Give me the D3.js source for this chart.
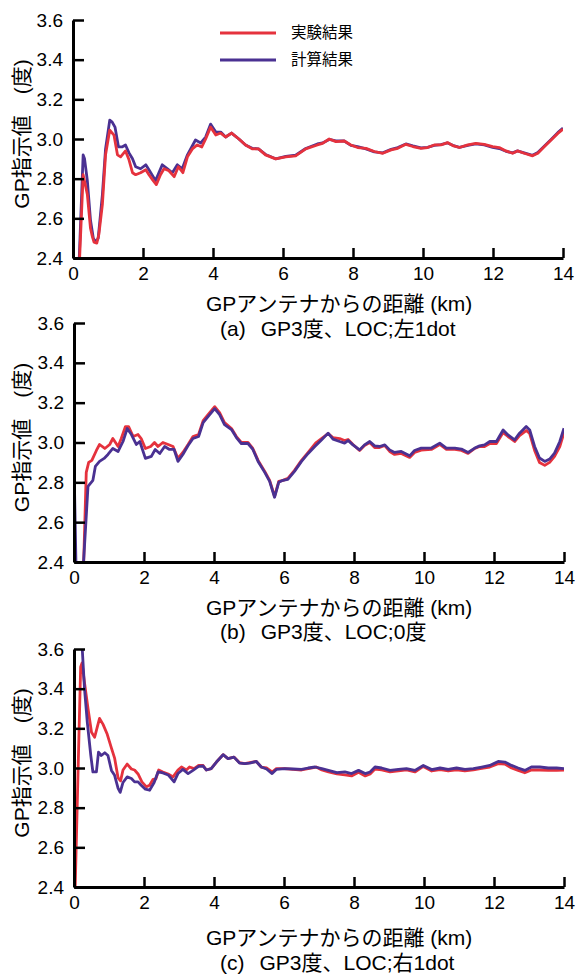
<!DOCTYPE html>
<html>
<head>
<meta charset="utf-8">
<script src="https://cdn.jsdelivr.net/npm/d3@7"></script>
<style>
body { margin: 0; background: #fff; }
text { font-family: "Liberation Sans", "Noto Sans CJK JP", sans-serif; fill: #000; }
</style>
</head>
<body>
<div id="graph"></div>
<script>
const xTicks = [0, 2, 4, 6, 8, 10, 12, 14];
const yTicks = [2.4, 2.6, 2.8, 3.0, 3.2, 3.4, 3.6];
const seriesNames = ['実験結果', '計算結果'];
const xTitle = 'GPアンテナからの距離 (km)';
const yTitle = 'GP指示値　(度)';
const capTags = ['(a)', '(b)', '(c)'];
const captions = ['GP3度、LOC;左1dot', 'GP3度、LOC;0度', 'GP3度、LOC;右1dot'];

// [km, deg]
const aExp = [[0.18,2.36],[0.29,2.82],[0.41,2.72],[0.5,2.55],[0.55,2.51],[0.6,2.48],[0.68,2.475],[0.74,2.52],[0.84,2.67],[0.93,2.92],[1.05,3.045],[1.17,3.02],[1.27,2.92],[1.36,2.91],[1.5,2.94],[1.6,2.895],[1.7,2.83],[1.79,2.82],[1.93,2.83],[2.08,2.845],[2.17,2.82],[2.27,2.795],[2.38,2.77],[2.5,2.82],[2.6,2.85],[2.74,2.84],[2.89,2.81],[3.01,2.86],[3.14,2.83],[3.27,2.91],[3.41,2.95],[3.55,2.97],[3.68,2.96],[3.79,3.0],[3.93,3.06],[4.08,3.02],[4.22,3.03],[4.36,3.01],[4.53,3.03],[4.74,3.0],[4.93,2.97],[5.12,2.95],[5.3,2.95],[5.5,2.92],[5.79,2.9],[6.08,2.91],[6.36,2.915],[6.65,2.95],[6.98,2.97],[7.13,2.978],[7.32,3.0],[7.51,2.987],[7.75,2.99],[7.94,2.97],[8.13,2.957],[8.37,2.953],[8.61,2.937],[8.85,2.928],[9.09,2.945],[9.28,2.953],[9.51,2.973],[9.71,2.962],[9.94,2.953],[10.13,2.957],[10.32,2.97],[10.51,2.97],[10.7,2.982],[10.85,2.967],[11.04,2.957],[11.28,2.97],[11.51,2.978],[11.75,2.973],[11.99,2.962],[12.18,2.957],[12.37,2.94],[12.56,2.928],[12.7,2.94],[12.89,2.928],[13.13,2.915],[13.28,2.928],[13.47,2.962],[13.66,2.995],[13.85,3.028],[14.0,3.05]];
const aCalc = [[0.17,2.36],[0.29,2.92],[0.33,2.9],[0.41,2.79],[0.5,2.59],[0.58,2.5],[0.65,2.48],[0.72,2.5],[0.84,2.72],[0.93,2.95],[1.05,3.095],[1.12,3.085],[1.2,3.06],[1.3,2.96],[1.4,2.96],[1.5,2.97],[1.6,2.93],[1.7,2.9],[1.79,2.86],[1.93,2.85],[2.08,2.87],[2.17,2.845],[2.36,2.79],[2.55,2.87],[2.7,2.85],[2.84,2.83],[2.98,2.87],[3.12,2.85],[3.27,2.92],[3.5,2.995],[3.65,2.98],[3.79,3.01],[3.93,3.075],[4.08,3.035],[4.22,3.035],[4.36,3.01],[4.53,3.03],[4.74,3.0],[4.93,2.97],[5.12,2.953],[5.3,2.95],[5.5,2.922],[5.79,2.9],[6.08,2.912],[6.36,2.918],[6.65,2.952],[6.98,2.975],[7.13,2.98],[7.32,2.998],[7.51,2.99],[7.75,2.99],[7.94,2.968],[8.13,2.962],[8.37,2.95],[8.61,2.935],[8.85,2.93],[9.09,2.948],[9.28,2.957],[9.51,2.975],[9.71,2.965],[9.94,2.955],[10.13,2.958],[10.32,2.968],[10.51,2.972],[10.7,2.98],[10.85,2.968],[11.04,2.958],[11.28,2.968],[11.51,2.975],[11.75,2.97],[11.99,2.958],[12.18,2.952],[12.37,2.938],[12.56,2.93],[12.7,2.94],[12.89,2.93],[13.13,2.918],[13.28,2.932],[13.47,2.965],[13.66,2.998],[13.85,3.032],[14.0,3.055]];

const bExp = [[0.27,2.36],[0.35,2.85],[0.42,2.9],[0.51,2.91],[0.64,2.96],[0.73,2.99],[0.88,2.97],[1.02,2.99],[1.11,3.02],[1.26,2.98],[1.35,3.02],[1.47,3.08],[1.56,3.08],[1.69,3.03],[1.83,3.04],[1.92,3.02],[2.04,2.97],[2.19,2.98],[2.3,3.0],[2.4,2.98],[2.54,3.0],[2.69,2.99],[2.83,2.98],[2.97,2.92],[3.11,2.95],[3.26,2.99],[3.4,3.03],[3.56,3.04],[3.69,3.11],[3.83,3.14],[4.02,3.18],[4.16,3.15],[4.3,3.1],[4.5,3.07],[4.64,3.03],[4.78,3.0],[4.97,3.0],[5.11,2.97],[5.26,2.91],[5.45,2.855],[5.59,2.81],[5.73,2.73],[5.85,2.805],[5.97,2.81],[6.11,2.82],[6.3,2.86],[6.5,2.91],[6.69,2.95],[6.92,3.0],[7.07,3.02],[7.26,3.045],[7.4,3.025],[7.59,3.02],[7.73,3.01],[7.83,3.015],[7.97,2.99],[8.16,2.96],[8.3,2.985],[8.45,3.0],[8.59,2.975],[8.73,2.975],[8.88,2.985],[9.02,2.955],[9.16,2.94],[9.35,2.945],[9.59,2.925],[9.73,2.95],[9.92,2.962],[10.21,2.965],[10.45,2.99],[10.64,2.965],[10.88,2.965],[11.07,2.96],[11.26,2.945],[11.45,2.97],[11.59,2.98],[11.73,2.98],[11.88,2.995],[12.07,2.995],[12.26,3.05],[12.4,3.03],[12.59,3.005],[12.73,3.035],[12.92,3.06],[13.02,3.045],[13.16,2.96],[13.3,2.9],[13.45,2.885],[13.59,2.9],[13.73,2.93],[13.88,2.98],[14.0,3.05]];
const bCalc = [[0.0,2.9],[0.06,2.36],[0.26,2.36],[0.4,2.78],[0.54,2.81],[0.61,2.88],[0.73,2.905],[0.86,2.92],[0.97,2.94],[1.11,2.97],[1.26,2.955],[1.4,3.005],[1.52,3.07],[1.64,3.04],[1.78,2.99],[1.88,3.005],[2.04,2.92],[2.21,2.93],[2.32,2.965],[2.45,2.945],[2.59,2.98],[2.73,2.965],[2.86,2.965],[2.97,2.905],[3.11,2.94],[3.26,2.985],[3.4,3.02],[3.56,3.03],[3.69,3.1],[3.83,3.13],[4.02,3.17],[4.16,3.14],[4.3,3.09],[4.5,3.065],[4.64,3.025],[4.78,2.995],[4.97,2.995],[5.11,2.965],[5.26,2.905],[5.45,2.85],[5.59,2.805],[5.73,2.725],[5.85,2.8],[5.97,2.81],[6.11,2.815],[6.3,2.855],[6.5,2.905],[6.69,2.945],[6.88,2.98],[7.07,3.013],[7.26,3.047],[7.4,3.017],[7.59,3.005],[7.73,2.997],[7.83,3.01],[7.97,2.988],[8.16,2.963],[8.3,2.988],[8.45,3.005],[8.59,2.983],[8.73,2.98],[8.88,2.988],[9.02,2.963],[9.16,2.95],[9.35,2.955],[9.59,2.933],[9.73,2.96],[9.92,2.972],[10.21,2.972],[10.45,2.997],[10.64,2.972],[10.88,2.972],[11.07,2.967],[11.26,2.95],[11.45,2.972],[11.59,2.983],[11.73,2.988],[11.88,3.005],[12.07,3.005],[12.26,3.063],[12.4,3.038],[12.59,3.013],[12.73,3.047],[12.92,3.08],[13.02,3.063],[13.16,2.98],[13.3,2.922],[13.45,2.905],[13.59,2.917],[13.73,2.947],[13.88,3.005],[14.0,3.072]];

const cExp = [[0.0,2.6],[0.03,2.37],[0.19,3.51],[0.23,3.53],[0.3,3.43],[0.4,3.3],[0.5,3.18],[0.59,3.155],[0.67,3.21],[0.73,3.25],[0.83,3.22],[0.95,3.17],[1.07,3.1],[1.16,3.05],[1.26,2.95],[1.33,2.935],[1.4,2.99],[1.52,3.02],[1.64,2.995],[1.73,2.99],[1.83,2.97],[1.94,2.93],[2.07,2.905],[2.16,2.913],[2.26,2.943],[2.34,2.945],[2.42,2.99],[2.54,2.98],[2.69,2.97],[2.83,2.955],[2.97,2.99],[3.07,3.005],[3.21,2.99],[3.3,3.005],[3.43,2.997],[3.56,3.013],[3.69,3.013],[3.78,2.99],[3.92,2.997],[4.07,3.03],[4.26,3.067],[4.4,3.047],[4.57,3.055],[4.73,3.027],[4.88,3.022],[5.02,3.027],[5.21,3.033],[5.35,3.005],[5.5,3.0],[5.66,2.98],[5.78,2.997],[6.02,2.997],[6.26,2.993],[6.5,2.99],[6.69,2.997],[6.92,3.005],[7.08,2.99],[7.27,2.98],[7.51,2.97],[7.74,2.965],[7.93,2.96],[8.13,2.978],[8.32,2.96],[8.46,2.97],[8.6,2.995],[8.79,2.99],[9.03,2.98],[9.27,2.985],[9.5,2.99],[9.74,2.98],[9.98,3.008],[10.22,2.985],[10.46,2.992],[10.69,2.985],[10.93,2.99],[11.17,2.985],[11.41,2.99],[11.65,2.998],[11.88,3.005],[12.12,3.022],[12.31,3.02],[12.5,3.0],[12.69,2.988],[12.88,2.976],[13.07,2.99],[13.31,2.99],[13.55,2.988],[13.79,2.988],[14.0,2.99]];
const cCalc = [[0.22,3.65],[0.3,3.4],[0.38,3.23],[0.48,3.063],[0.54,2.98],[0.64,2.98],[0.7,3.08],[0.78,3.063],[0.88,3.077],[0.97,3.063],[1.07,2.988],[1.16,2.963],[1.26,2.897],[1.32,2.877],[1.4,2.927],[1.52,2.955],[1.64,2.947],[1.73,2.93],[1.83,2.93],[1.92,2.913],[2.04,2.893],[2.16,2.888],[2.29,2.927],[2.4,2.98],[2.54,2.975],[2.69,2.965],[2.86,2.93],[2.97,2.972],[3.11,2.993],[3.26,2.972],[3.4,2.988],[3.56,3.008],[3.69,3.01],[3.78,2.99],[3.92,2.997],[4.07,3.03],[4.26,3.067],[4.4,3.047],[4.57,3.055],[4.73,3.025],[4.88,3.022],[5.02,3.025],[5.21,3.033],[5.35,3.005],[5.5,2.995],[5.66,2.972],[5.78,2.993],[6.02,2.997],[6.26,2.995],[6.5,2.993],[6.69,3.0],[6.89,3.005],[7.08,2.997],[7.27,2.988],[7.51,2.977],[7.74,2.98],[7.93,2.972],[8.13,2.988],[8.32,2.972],[8.46,2.98],[8.6,3.005],[8.79,3.0],[9.03,2.988],[9.27,2.993],[9.5,2.997],[9.74,2.988],[9.98,3.013],[10.22,2.992],[10.46,3.0],[10.69,2.993],[10.93,3.0],[11.17,2.993],[11.41,2.997],[11.65,3.005],[11.88,3.013],[12.12,3.033],[12.31,3.03],[12.5,3.013],[12.69,3.0],[12.88,2.988],[13.07,3.005],[13.31,3.005],[13.55,3.0],[13.79,3.0],[14.0,2.997]];

const w = 578, h = 976;
const red = '#e5323d', blue = '#4a3192';

// panel placement (px)
const panels = [
  {exp: aExp, calc: aCalc, left: 73, top: 20, bottom: 258, titleDy: 53, capDy: 78, redTop: true, legend: true},
  {exp: bExp, calc: bCalc, left: 74, top: 323, bottom: 562, titleDy: 53, capDy: 77, redTop: false},
  {exp: cExp, calc: cCalc, left: 74, top: 649, bottom: 887, titleDy: 58, capDy: 83, redTop: false}
];

const svg = d3.select('#graph').append('svg').attr('width', w).attr('height', h);

panels.forEach(function(p, i) {
  const x = d3.scaleLinear().domain([0, 14]).range([p.left, p.left + 490]);
  const y = d3.scaleLinear().domain([2.4, 3.6]).range([p.bottom, p.top]);
  const g = svg.append('g');

  g.append('clipPath').attr('id', 'clip' + i)
    .append('rect').attr('x', x(0)).attr('y', y(3.6)).attr('width', x(14) - x(0)).attr('height', y(2.4) - y(3.6));

  const line = d3.line().x(d => x(d[0])).y(d => y(d[1]));
  const order = p.redTop ? [[p.calc, blue], [p.exp, red]] : [[p.exp, red], [p.calc, blue]];
  order.forEach(function(s) {
    g.append('path').datum(s[0])
      .attr('clip-path', 'url(#clip' + i + ')')
      .attr('fill', 'none').attr('stroke', s[1]).attr('stroke-width', 2.8)
      .attr('stroke-linejoin', 'round')
      .attr('d', line);
  });

  const xAxis = d3.axisBottom(x).tickValues(xTicks).tickFormat(d3.format('d')).tickSizeInner(-10).tickSizeOuter(0).tickPadding(9);
  const yAxis = d3.axisLeft(y).tickValues(yTicks).tickFormat(d3.format('.1f')).tickSizeInner(-11).tickSizeOuter(0).tickPadding(10);

  const gx = g.append('g').attr('transform', `translate(0,${p.bottom})`).call(xAxis);
  const gy = g.append('g').attr('transform', `translate(${p.left},0)`).call(yAxis);
  [gx, gy].forEach(function(a) {
    a.select('.domain').attr('stroke', '#000').attr('stroke-width', 3);
    a.selectAll('.tick line').attr('stroke', '#000').attr('stroke-width', 2.5);
    a.selectAll('.tick text').style('font-size', '19px').attr('fill', '#000');
  });

  // x title and caption are left-aligned in the source
  g.append('text')
    .attr('x', 206).attr('y', p.bottom + p.titleDy)
    .style('font-size', '21px')
    .text(xTitle);

  const cap = g.append('text')
    .attr('x', 220).attr('y', p.bottom + p.capDy)
    .style('font-size', '21px');
  cap.append('tspan').text(capTags[i]);
  cap.append('tspan').attr('dx', 15).text(captions[i]);

  g.append('text')
    .attr('transform', `translate(29,${(p.top + p.bottom) / 2 - 5}) rotate(-90)`)
    .attr('text-anchor', 'middle')
    .style('font-size', '21px')
    .text(yTitle);

  if (p.legend) {
    const lg = g.append('g').attr('id', 'legend');
    const item = lg.selectAll('g').data(seriesNames).enter().append('g')
      .attr('transform', (d, k) => `translate(220,${33 + k * 27})`);
    item.append('line').attr('x1', 0).attr('x2', 56).attr('y1', 0).attr('y2', 0)
      .attr('stroke', (d, k) => k === 0 ? red : blue).attr('stroke-width', 2.8);
    item.append('text').attr('x', 71).attr('y', 0).attr('dy', '0.35em')
      .style('font-size', '15.5px').text(d => d);
  }
});
</script>
</body>
</html>
